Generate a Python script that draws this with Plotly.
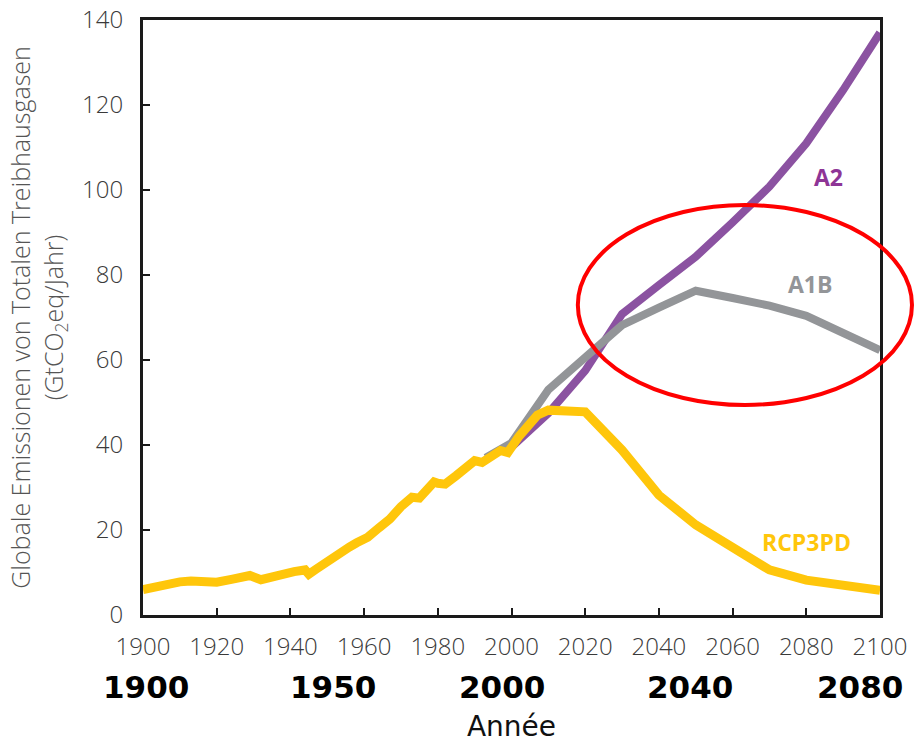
import plotly.graph_objects as go

# ---------------- data ----------------
hist_years = [1900, 1903, 1906, 1910, 1913, 1917, 1920, 1924, 1929, 1932, 1935, 1938,
              1941, 1944, 1945, 1947, 1949, 1951, 1953, 1956, 1958, 1961, 1964, 1967,
              1970, 1972, 1973, 1975, 1977, 1979, 1980, 1982, 1985, 1988, 1990, 1992,
              1994, 1997, 1999, 2000, 2002, 2005, 2007, 2010, 2020, 2030, 2040, 2050,
              2060, 2070, 2080, 2090, 2100]
rcp3pd_values = [6.0, 6.6, 7.4, 7.8, 8.0, 7.9, 7.7, 8.4, 9.3, 8.3, 9.0, 9.8,
                 10.2, 10.6, 9.6, 10.8, 12.0, 13.5, 14.6, 16.0, 17.0, 18.3, 20.5, 22.6,
                 25.5, 27.2, 27.7, 27.5, 29.4, 31.3, 31.0, 30.8, 32.8, 35.0, 36.3, 35.9,
                 37.0, 38.7, 38.2, 39.5, 42.0, 45.0, 47.0, 48.2, 47.8, 38.8, 28.2, 21.2,
                 15.7, 10.6, 8.2, 6.8, 5.8]

a1b_years = [1993, 2000, 2010, 2020, 2030, 2040, 2050, 2060, 2070, 2080, 2090, 2100]
a1b_values = [37.0, 40.5, 53.0, 60.5, 68.2, 72.3, 76.3, 74.6, 72.8, 70.4, 66.4, 62.3]

a2_years = [2000, 2010, 2020, 2030, 2040, 2050, 2060, 2070, 2080, 2090, 2100]
a2_values = [39.5, 47.5, 57.5, 70.8, 77.6, 84.3, 92.4, 100.8, 111.0, 123.5, 137.0]

x_ticks = [1900, 1920, 1940, 1960, 1980, 2000, 2020, 2040, 2060, 2080, 2100]
y_ticks = [0, 20, 40, 60, 80, 100, 120, 140]
overlay_year_labels = ["1900", "1950", "2000", "2040", "2080"]

series_names = ["A2", "A1B", "RCP3PD"]

# ---------------- styles ----------------
PURPLE = "#8B52A1"
GREY = "#939598"
YELLOW = "#FFC60B"

fig = go.Figure()
fig.add_trace(go.Scatter(x=a2_years, y=a2_values, mode="lines", name=series_names[0],
                         line=dict(color=PURPLE, width=8)))
fig.add_trace(go.Scatter(x=a1b_years, y=a1b_values, mode="lines", name=series_names[1],
                         line=dict(color=GREY, width=8)))
fig.add_trace(go.Scatter(x=hist_years, y=rcp3pd_values, mode="lines", name=series_names[2],
                         line=dict(color=YELLOW, width=9)))

# series labels (placed in data coordinates)
label_font = "Open Sans, Arial, sans-serif"
fig.add_annotation(x=2086, y=103, xref="x", yref="y", text="<b>A2</b>", showarrow=False,
                   font=dict(family=label_font, size=23, color="#8E3596"))
fig.add_annotation(x=2081, y=78, xref="x", yref="y", text="<b>A1B</b>", showarrow=False,
                   font=dict(family=label_font, size=23, color=GREY))
fig.add_annotation(x=2080, y=17.2, xref="x", yref="y", text="<b>RCP3PD</b>", showarrow=False,
                   font=dict(family=label_font, size=23, color=YELLOW))

# overlaid bold year labels
overlay_x = [0.004, 0.258, 0.487, 0.742, 0.973]
for lab, px in zip(overlay_year_labels, overlay_x):
    fig.add_annotation(x=px, y=-0.121, xref="paper", yref="paper", text="<b>" + lab + "</b>",
                       showarrow=False, xanchor="center", yanchor="middle",
                       font=dict(family="DejaVu Sans, Verdana, sans-serif", size=31, color="#000000"))

# red ellipse highlight
fig.add_shape(type="circle", xref="paper", yref="paper",
              x0=0.590, x1=1.0434, y0=0.353, y1=0.689,
              line=dict(color="#FF0000", width=4), layer="above")

axis_common = dict(
    showline=True, linecolor="#1a1a1a", linewidth=3, mirror=True,
    ticks="inside", ticklen=7, tickwidth=2, tickcolor="#1a1a1a",
    showgrid=False, zeroline=False, ticklabeloverflow="allow",
    tickfont=dict(family="Open Sans, sans-serif", size=24, color="#3a3a3a", weight=300),
)

fig.update_xaxes(range=[1900, 2100], tickvals=x_ticks, ticktext=[str(v) for v in x_ticks],
                 ticklabelstandoff=8,
                 title=dict(text="Année", standoff=62,
                            font=dict(family="DejaVu Sans, Verdana, sans-serif", size=28, color="#111111")),
                 **axis_common)
fig.update_yaxes(range=[0, 140], tickvals=y_ticks, ticktext=[str(v) for v in y_ticks],
                 ticklabelstandoff=12,
                 title=dict(text="Globale Emissionen von Totalen Treibhausgasen<br>(GtCO<sub>2</sub>eq/Jahr)",
                            standoff=12,
                            font=dict(family="Open Sans, sans-serif", size=25, color="#555555", weight=300)),
                 **axis_common)

fig.update_layout(
    width=914, height=743,
    margin=dict(l=143, r=34, t=20, b=128, autoexpand=False),
    plot_bgcolor="white", paper_bgcolor="white",
    showlegend=False,
)

# remove the default 8 px page margin so the figure sits at the window's top-left corner
fig.write_html("out.html", config={"displayModeBar": False},
               post_script="document.body.style.margin='0';")
